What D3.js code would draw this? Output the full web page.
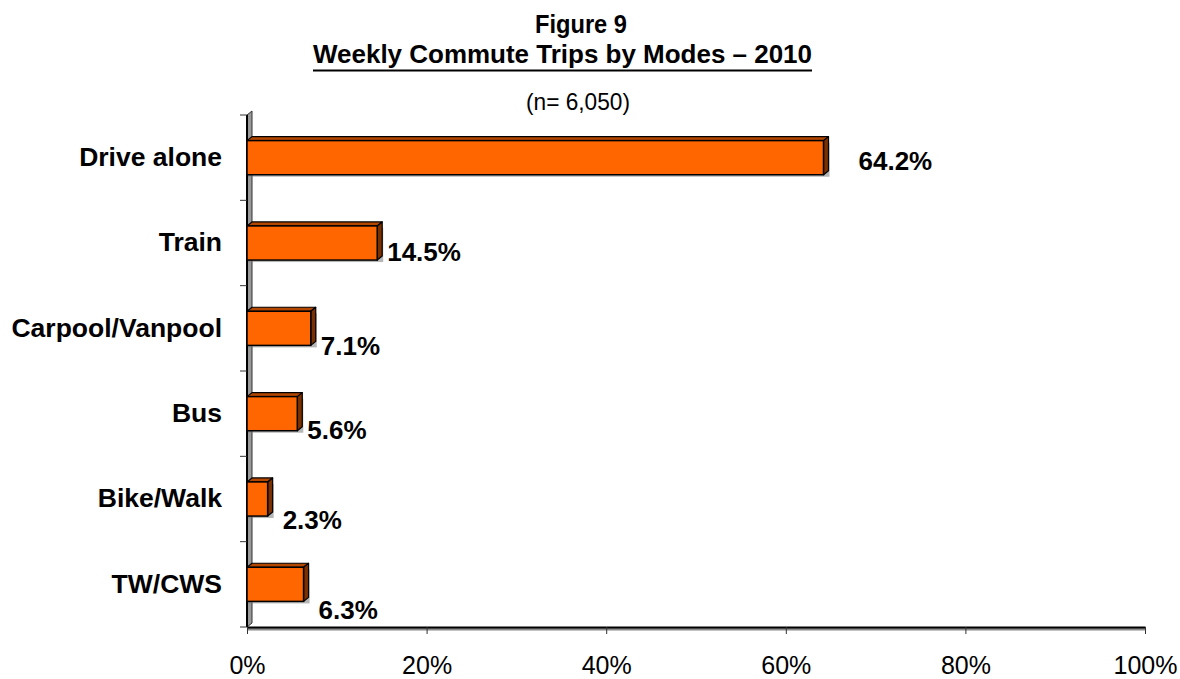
<!DOCTYPE html>
<html>
<head>
<meta charset="utf-8">
<script src="https://cdn.jsdelivr.net/npm/d3@7/dist/d3.min.js"></script>
<style>
  html, body { margin: 0; padding: 0; background: #fff; }
  svg { display: block; }
  text { font-family: "Liberation Sans", Arial, sans-serif; fill: #000; }
</style>
</head>
<body>
<svg id="chart" width="1180" height="679"></svg>
<script>
// Weekly commute trips by mode, 2010 (share of trips, %)
const categories = ["Drive alone", "Train", "Carpool/Vanpool", "Bus", "Bike/Walk", "TW/CWS"];
const shares = [64.2, 14.5, 7.1, 5.6, 2.3, 6.3];
const xTicks = [0, 20, 40, 60, 80, 100];
const titleLines = ["Figure 9", "Weekly Commute Trips by Modes \u2013 2010", "(n= 6,050)"];

// hand-placed label shifts [dx, dy] relative to the default spot beside each bar
const labelNudge = [[25, 3], [0, 9], [0, 18], [0, 16], [5, 21], [5, 26]];

const svg = d3.select("#chart");
const plot = { left: 247, right: 1145, top: 115, bottom: 627 };
const depth = { dx: 5, dy: 4 };

const x = d3.scaleLinear().domain([0, 100]).range([plot.left, plot.right]);
const y = d3.scaleBand().domain(categories).range([plot.top, plot.bottom])
  .paddingInner(0.6).paddingOuter(0.3);

// ---- titles (condensed face emulated with textLength)
svg.append("text").attr("x", 535).attr("y", 33)
  .attr("font-size", 25).attr("font-weight", "bold")
  .attr("textLength", 92).attr("lengthAdjust", "spacingAndGlyphs")
  .text(titleLines[0]);
svg.append("text").attr("x", 313).attr("y", 63)
  .attr("font-size", 25).attr("font-weight", "bold")
  .attr("textLength", 499).attr("lengthAdjust", "spacingAndGlyphs")
  .text(titleLines[1]);
svg.append("line").attr("x1", 313).attr("x2", 812).attr("y1", 70.5).attr("y2", 70.5)
  .attr("stroke", "#000").attr("stroke-width", 2);
svg.append("text").attr("x", 526).attr("y", 110)
  .attr("font-size", 24)
  .attr("textLength", 104).attr("lengthAdjust", "spacingAndGlyphs")
  .text(titleLines[2]);

// ---- 3D back wall of the category axis
svg.append("polygon")
  .attr("points", [
    [plot.left, plot.top], [plot.left + depth.dx, plot.top - depth.dy],
    [plot.left + depth.dx, plot.bottom - depth.dy], [plot.left, plot.bottom]
  ].map(p => p.join(",")).join(" "))
  .attr("fill", "#9a9a9a").attr("stroke", "#333").attr("stroke-width", 1);
svg.append("line")
  .attr("x1", plot.left).attr("x2", plot.left)
  .attr("y1", plot.top).attr("y2", plot.bottom)
  .attr("stroke", "#000").attr("stroke-width", 2);

// category boundary ticks
const bounds = d3.range(categories.length + 1).map(i => plot.top + i * y.step());
svg.append("g").selectAll("line").data(bounds).join("line")
  .attr("x1", plot.left - 7).attr("x2", plot.left)
  .attr("y1", d => d).attr("y2", d => d)
  .attr("stroke", "#333").attr("stroke-width", 1);

// category labels
const yAxis = svg.append("g").attr("transform", `translate(${plot.left},0)`)
  .call(d3.axisLeft(y).tickSize(0).tickPadding(25));
yAxis.select(".domain").remove();
yAxis.selectAll("text")
  .attr("font-family", "Liberation Sans, Arial, sans-serif")
  .attr("font-size", 26.5).attr("font-weight", "bold").attr("fill", "#000");

// ---- bars with a shallow 3D extrusion
const bars = svg.append("g").selectAll("g").data(categories).join("g");
const x0 = x(0);
const pts = a => a.map(p => p.join(",")).join(" ");

// soft drop shadow
bars.append("rect")
  .attr("x", x0 + 1).attr("y", c => y(c) + 2)
  .attr("width", (c, i) => x(shares[i]) - x0 + depth.dx)
  .attr("height", y.bandwidth())
  .attr("fill", "#7a7a7a").attr("opacity", 0.55);

// top face
bars.append("polygon")
  .attr("points", (c, i) => {
    const x1 = x(shares[i]), yt = y(c);
    return pts([[x0, yt], [x0 + depth.dx, yt - depth.dy], [x1 + depth.dx, yt - depth.dy], [x1, yt]]);
  })
  .attr("fill", "#b34700").attr("stroke", "#000").attr("stroke-width", 1.2)
  .attr("stroke-linejoin", "round");

// side face
bars.append("polygon")
  .attr("points", (c, i) => {
    const x1 = x(shares[i]), yt = y(c), yb = y(c) + y.bandwidth();
    return pts([[x1, yt], [x1 + depth.dx, yt - depth.dy], [x1 + depth.dx, yb - depth.dy], [x1, yb]]);
  })
  .attr("fill", "#7a3000").attr("stroke", "#000").attr("stroke-width", 1.2)
  .attr("stroke-linejoin", "round");

// front face
bars.append("rect")
  .attr("x", x0).attr("y", c => y(c))
  .attr("width", (c, i) => x(shares[i]) - x0)
  .attr("height", y.bandwidth())
  .attr("fill", "#ff6600").attr("stroke", "#000").attr("stroke-width", 1.5);

// value labels
bars.append("text")
  .attr("x", (c, i) => x(shares[i]) + depth.dx + 5 + labelNudge[i][0])
  .attr("y", (c, i) => y(c) + y.bandwidth() / 2 + 9 + labelNudge[i][1])
  .attr("font-size", 26).attr("font-weight", "bold")
  .text((c, i) => shares[i].toFixed(1) + "%");

// ---- value axis with floor edge
svg.append("line")
  .attr("x1", plot.left).attr("x2", plot.right)
  .attr("y1", plot.bottom + 2).attr("y2", plot.bottom + 2)
  .attr("stroke", "#8a8a8a").attr("stroke-width", 3);
const xAxis = svg.append("g").attr("transform", `translate(0,${plot.bottom})`)
  .call(d3.axisBottom(x).tickValues(xTicks).tickFormat(d => d + "%")
    .tickSize(7).tickSizeOuter(0).tickPadding(22));
xAxis.select(".domain").attr("stroke", "#000").attr("stroke-width", 2);
xAxis.selectAll(".tick line").attr("stroke", "#333");
xAxis.selectAll("text")
  .attr("font-family", "Liberation Sans, Arial, sans-serif")
  .attr("font-size", 25).attr("fill", "#000");
</script>
</body>
</html>
